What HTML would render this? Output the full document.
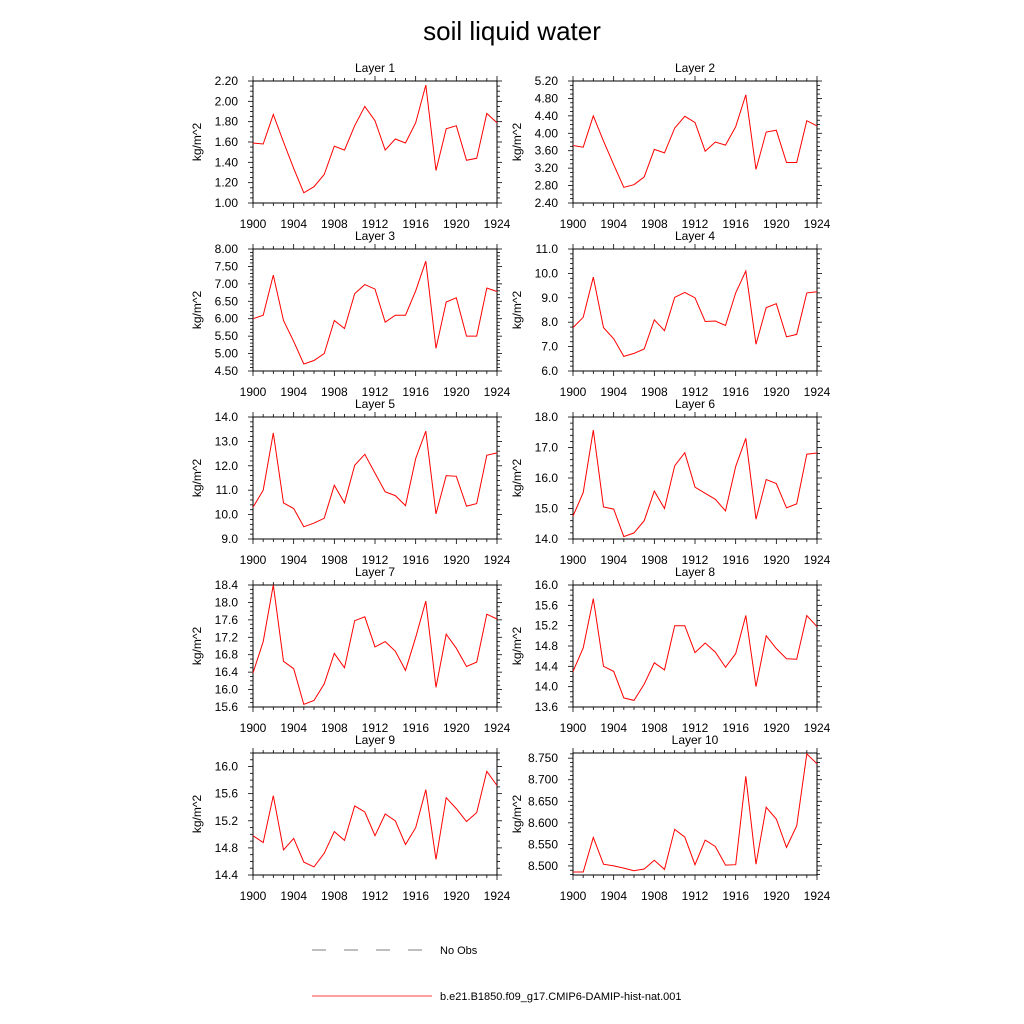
<!DOCTYPE html>
<html><head><meta charset="utf-8"><style>
body{margin:0;background:#fff}
svg{display:block;font-family:"Liberation Sans",sans-serif}
</style></head><body>
<svg id="chart" width="1024" height="1024" viewBox="0 0 1024 1024">
<text x="512" y="40" text-anchor="middle" font-size="26">soil liquid water</text>
<g>
<line x1="312" y1="950" x2="432" y2="950" stroke="#555" stroke-width="0.8" stroke-dasharray="14,18"/>
<text x="440" y="954" font-size="11">No Obs</text>
<line x1="312" y1="996" x2="432" y2="996" stroke="red" stroke-width="0.8"/>
<text x="440" y="1000" font-size="11">b.e21.B1850.f09_g17.CMIP6-DAMIP-hist-nat.001</text>
</g>
</svg>
<script>
const years = [1900,1901,1902,1903,1904,1905,1906,1907,1908,1909,1910,1911,1912,1913,1914,1915,1916,1917,1918,1919,1920,1921,1922,1923,1924];
const xTicks = [1900,1904,1908,1912,1916,1920,1924];
const layerNames = ["Layer 1","Layer 2","Layer 3","Layer 4","Layer 5","Layer 6","Layer 7","Layer 8","Layer 9","Layer 10"];
const layer1 = [1.59,1.58,1.87,1.60,1.34,1.10,1.16,1.28,1.56,1.52,1.76,1.95,1.81,1.52,1.63,1.59,1.79,2.16,1.32,1.73,1.76,1.42,1.44,1.88,1.79];
const layer2 = [3.72,3.68,4.40,3.82,3.28,2.76,2.82,3.00,3.63,3.55,4.12,4.39,4.25,3.59,3.80,3.73,4.15,4.88,3.17,4.03,4.07,3.33,3.33,4.29,4.17];
const layer3 = [6.0,6.1,7.25,5.95,5.35,4.7,4.8,5.0,5.95,5.72,6.72,6.98,6.85,5.9,6.1,6.1,6.8,7.65,5.15,6.48,6.6,5.5,5.5,6.88,6.78];
const layer4 = [7.78,8.2,9.85,7.78,7.32,6.6,6.72,6.9,8.1,7.65,9.02,9.22,9.0,8.03,8.05,7.87,9.2,10.1,7.1,8.6,8.76,7.4,7.5,9.2,9.25];
const layer5 = [10.3,11.0,13.35,10.48,10.25,9.5,9.65,9.85,11.2,10.48,12.02,12.47,11.7,10.93,10.78,10.37,12.3,13.42,10.03,11.6,11.57,10.35,10.45,12.43,12.53];
const layer6 = [14.75,15.52,17.57,15.05,14.98,14.08,14.2,14.6,15.57,15.0,16.4,16.83,15.7,15.5,15.3,14.92,16.38,17.3,14.65,15.95,15.82,15.02,15.15,16.78,16.82];
const layer7 = [16.38,17.1,18.4,16.65,16.48,15.66,15.75,16.13,16.83,16.5,17.58,17.67,16.98,17.1,16.88,16.44,17.2,18.03,16.05,17.27,16.95,16.53,16.63,17.73,17.62];
const layer8 = [14.3,14.76,15.73,14.4,14.3,13.78,13.73,14.05,14.47,14.33,15.2,15.2,14.67,14.86,14.68,14.38,14.65,15.4,14.0,15.0,14.75,14.55,14.54,15.4,15.18];
const layer9 = [14.98,14.88,15.57,14.77,14.94,14.59,14.52,14.72,15.04,14.91,15.42,15.33,14.98,15.3,15.2,14.85,15.1,15.66,14.63,15.54,15.38,15.19,15.32,15.93,15.72];
const layer10 = [8.486,8.486,8.566,8.504,8.5,8.495,8.489,8.493,8.513,8.492,8.585,8.567,8.503,8.56,8.545,8.502,8.503,8.708,8.504,8.636,8.609,8.543,8.593,8.76,8.737];
const layerSeries = [layer1,layer2,layer3,layer4,layer5,layer6,layer7,layer8,layer9,layer10];
const yMins = [1.0,2.4,4.5,6.0,9.0,14.0,15.6,13.6,14.4,8.479];
const yMaxs = [2.2,5.2,8.0,11.0,14.0,18.0,18.4,16.0,16.2,8.762];
const yMajor = [0.2,0.4,0.5,1,1,1,0.4,0.4,0.4,0.05];
const yMinor = [0.05,0.1,0.1,0.2,0.2,0.2,0.1,0.1,0.1,0.01];
const yDec = [2,2,2,1,1,1,1,1,1,3];

const NS="http://www.w3.org/2000/svg";
const svg=document.getElementById('chart');
function mk(tag,attrs,parent){const e=document.createElementNS(NS,tag);for(const k in attrs)e.setAttribute(k,attrs[k]);(parent||svg).appendChild(e);return e;}
const colX=[253,573], W=244, rowY=[81,249,417,585,753], H=122;

layerSeries.forEach((vals,i)=>{
  const x0=colX[i%2], y0=rowY[Math.floor(i/2)];
  const g=mk('g',{});
  
  
  const xs=v=>x0+(v-years[0])/(years[years.length-1]-years[0])*W;
  const ys=v=>y0+H-(v-yMins[i])/(yMaxs[i]-yMins[i])*H;
  const t=mk('text',{x:x0+W/2,y:y0-9,'text-anchor':'middle','font-size':12},g);
  t.textContent=layerNames[i];
  
  
  const yl=mk('text',{transform:`translate(${x0-52},${y0+H/2}) rotate(-90)`,'text-anchor':'middle','font-size':12},g);
  yl.textContent='kg/m^2';
  
  
  years.forEach(yr=>{
    const x=xs(yr), major=xTicks.includes(yr), L=major?5:3;
    mk('line',{x1:x,y1:y0+H,x2:x,y2:y0+H+L,stroke:'#000','stroke-width':0.8},g);
    mk('line',{x1:x,y1:y0,x2:x,y2:y0-L,stroke:'#000','stroke-width':0.8},g);
  });
  xTicks.forEach(yr=>{
    const tl=mk('text',{x:xs(yr),y:y0+H+25,'text-anchor':'middle','font-size':12},g);
    tl.textContent=yr;
    
    
  });
  const mn=yMinor[i], mj=yMajor[i];
  const start=Math.ceil(yMins[i]/mn-1e-6);
  for(let k=start;k*mn<=yMaxs[i]+1e-9;k++){
    const v=k*mn; const y=ys(v);
    const isMaj=Math.abs(v/mj-Math.round(v/mj))<1e-6; const L=isMaj?5:3;
    mk('line',{x1:x0,y1:y,x2:x0-L,y2:y,stroke:'#000','stroke-width':0.8},g);
    mk('line',{x1:x0+W,y1:y,x2:x0+W+L,y2:y,stroke:'#000','stroke-width':0.8},g);
    if(isMaj){
      const tl=mk('text',{x:x0-15,y:y+4,'text-anchor':'end','font-size':12},g);
      tl.textContent=v.toFixed(yDec[i]);
      
      
    }
  }
  mk('rect',{x:x0,y:y0,width:W,height:H,fill:'none',stroke:'#000','stroke-width':1},g);
  const pl=mk('polyline',{points:vals.map((v,j)=>xs(years[j]).toFixed(1)+','+ys(v).toFixed(1)).join(' '),fill:'none',stroke:'red','stroke-width':1},g);
  
  
});
</script>
</body></html>
